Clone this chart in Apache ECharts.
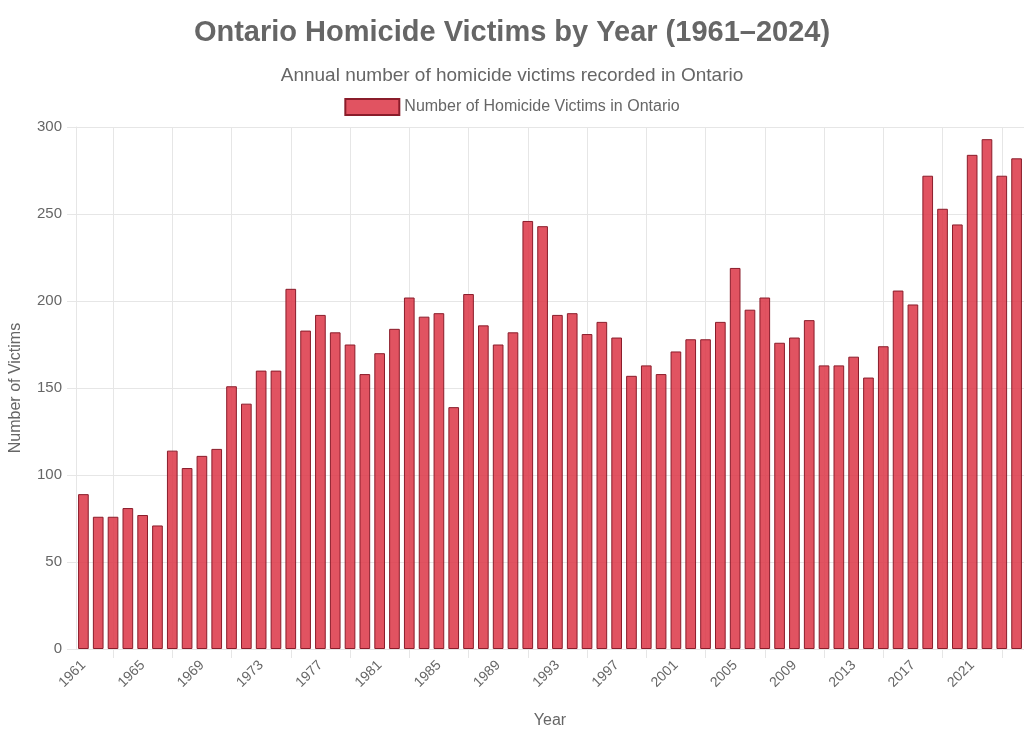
<!DOCTYPE html>
<html>
<head>
<meta charset="utf-8">
<title>Ontario Homicide Victims by Year</title>
<script src="https://cdn.jsdelivr.net/npm/echarts@6/dist/echarts.min.js"></script>
<style>
  html, body { margin: 0; padding: 0; background: #fff; }
  #main { width: 1024px; height: 736px; }
</style>
</head>
<body>
<div id="main"></div>
<script>
// years on the x axis
var years = [];
for (var y = 1961; y <= 2024; y++) { years.push(String(y)); }

// victims per year
var victims = [
  89, 76, 76, 81, 77, 71, 114, 104, 111, 115,
  151, 141, 160, 160, 207, 183, 192, 182, 175, 158,
  170, 184, 202, 191, 193, 139, 204, 186, 175, 182,
  246, 243, 192, 193, 181, 188, 179, 157, 163, 158,
  171, 178, 178, 188, 219, 195, 202, 176, 179, 189,
  163, 163, 168, 156, 174, 206, 198, 272, 253, 244,
  284, 293, 272, 282
];

var yTicks = [0, 50, 100, 150, 200, 250, 300];

var fontFam = '"Liberation Sans", Arial, Helvetica, sans-serif';
var gridColor = '#e6e6e6';

var myChart = echarts.init(document.getElementById('main'));

var option = {
  backgroundColor: '#fff',
  textStyle: { fontFamily: fontFam },
  title: [
    {
      text: 'Ontario Homicide Victims by Year (1961–2024)',
      left: 'center',
      top: 13,
      textStyle: { fontSize: 29, fontWeight: 'bold', color: '#666', fontFamily: fontFam }
    },
    {
      text: 'Annual number of homicide victims recorded in Ontario',
      left: 'center',
      top: 61,
      textStyle: { fontSize: 19, fontWeight: 'normal', color: '#666', fontFamily: fontFam }
    }
  ],
  legend: {
    top: 93,
    left: 'center',
    icon: 'rect',
    itemWidth: 54,
    itemHeight: 16,
    itemGap: 10,
    textStyle: { fontSize: 16, color: '#666', fontFamily: fontFam },
    data: ['Number of Homicide Victims in Ontario']
  },
  grid: {
    left: 75,
    right: 0,
    top: 127,
    bottom: 87
  },
  xAxis: {
    type: 'category',
    data: years,
    name: 'Year',
    nameLocation: 'middle',
    nameGap: 64,
    nameTextStyle: { fontSize: 16, color: '#666' },
    axisLine: { show: true, lineStyle: { color: gridColor } },
    axisTick: {
      show: true,
      alignWithLabel: true,
      length: 9,
      interval: function (idx) { return idx % 4 === 2; },
      lineStyle: { color: gridColor }
    },
    axisLabel: {
      interval: function (idx) { return idx % 4 === 0; },
      rotate: 45,
      margin: 14,
      fontSize: 14,
      color: '#666'
    },
    splitLine: {
      show: true,
      alignWithLabel: true,
      interval: function (idx) { return idx % 4 === 2; },
      lineStyle: { color: gridColor }
    }
  },
  yAxis: {
    type: 'value',
    min: yTicks[0],
    max: yTicks[yTicks.length - 1],
    interval: 50,
    name: 'Number of Victims',
    nameLocation: 'middle',
    nameGap: 52,
    nameTextStyle: { fontSize: 16, color: '#666' },
    axisLine: { show: true, lineStyle: { color: gridColor } },
    axisTick: { show: true, length: 9, lineStyle: { color: gridColor } },
    axisLabel: { fontSize: 15, color: '#666', margin: 14 },
    splitLine: { show: true, lineStyle: { color: gridColor } }
  },
  series: [
    {
      name: 'Number of Homicide Victims in Ontario',
      type: 'bar',
      data: victims,
      barWidth: '72%',
      itemStyle: {
        color: 'rgba(220, 53, 69, 0.85)',
        borderColor: '#8a1c2a',
        borderWidth: 1
      }
    }
  ]
};

myChart.setOption(option);
</script>
</body>
</html>
